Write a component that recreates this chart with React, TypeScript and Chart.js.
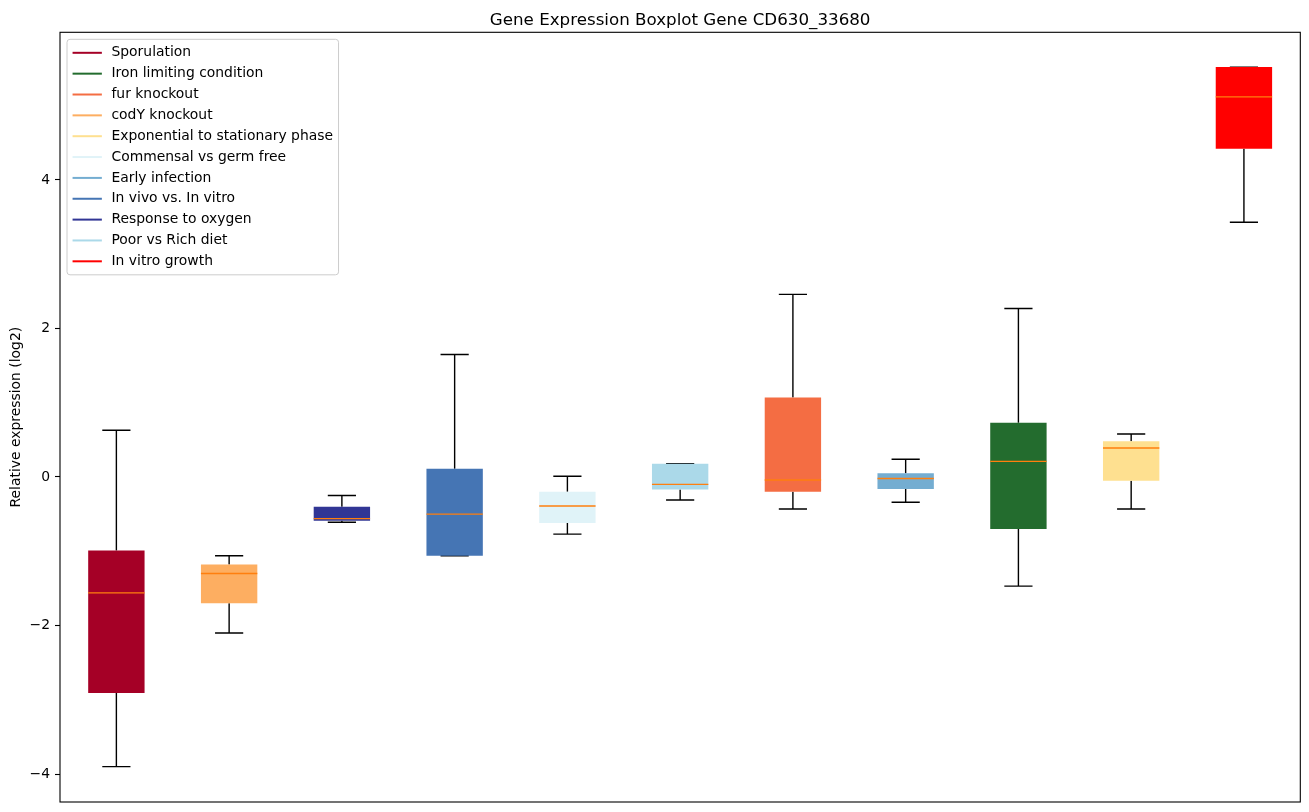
import { useEffect, useRef } from 'react';
import { Chart, registerables } from 'chart.js';

Chart.register(...registerables);

// ---------- data ----------
const categories = [
  'Sporulation',
  'codY knockout',
  'Response to oxygen',
  'In vivo vs. In vitro',
  'Commensal vs germ free',
  'Poor vs Rich diet',
  'fur knockout',
  'Early infection',
  'Iron limiting condition',
  'Exponential to stationary phase',
  'In vitro growth',
];
const whiskerLow = [-3.90, -2.10, -0.61, -1.06, -0.77, -0.31, -0.43, -0.34, -1.47, -0.43, 3.43];
const q1 = [-2.91, -1.70, -0.59, -1.06, -0.62, -0.17, -0.20, -0.16, -0.70, -0.05, 4.42];
const medians = [-1.56, -1.30, -0.56, -0.50, -0.39, -0.10, -0.04, -0.02, 0.21, 0.39, 5.12];
const q3 = [-0.99, -1.18, -0.40, 0.11, -0.20, 0.18, 1.07, 0.05, 0.73, 0.48, 5.52];
const whiskerHigh = [0.63, -1.06, -0.25, 1.65, 0.01, 0.18, 2.46, 0.24, 2.27, 0.58, 5.52];
const boxColors = [
  '#a50026', '#fdae61', '#313695', '#4575b4', '#e0f3f8', '#abd9e9',
  '#f46d43', '#74add1', '#236c2e', '#fee090', '#ff0000',
];
const legendLabels = [
  'Sporulation',
  'Iron limiting condition',
  'fur knockout',
  'codY knockout',
  'Exponential to stationary phase',
  'Commensal vs germ free',
  'Early infection',
  'In vivo vs. In vitro',
  'Response to oxygen',
  'Poor vs Rich diet',
  'In vitro growth',
];
const legendColors = [
  '#a50026', '#236c2e', '#f46d43', '#fdae61', '#fee090', '#e0f3f8',
  '#74add1', '#4575b4', '#313695', '#abd9e9', '#ff0000',
];
const yTicks = [-4, -2, 0, 2, 4];
const yMin = -4.377;
const yMax = 5.989;
const titleText = 'Gene Expression Boxplot Gene CD630_33680';
const yLabel = 'Relative expression (log2)';

const FONT = '"DejaVu Sans", "Liberation Sans", sans-serif';

export default function App() {
  const ref = useRef<HTMLCanvasElement>(null);

  useEffect(() => {
    const canvas = ref.current;
    if (!canvas) return;

    const boxParts = {
      id: 'boxParts',
      beforeDatasetsDraw(chart: any) {
        const ctx = chart.ctx;
        const xs = chart.scales.x;
        const ys = chart.scales.y;
        const catW = xs.width / categories.length;
        const capHalf = catW * 0.125;
        ctx.save();
        ctx.strokeStyle = '#000';
        ctx.lineWidth = 1.4;
        categories.forEach((_, i) => {
          const x = xs.getPixelForValue(i);
          const yHi = ys.getPixelForValue(whiskerHigh[i]);
          const yQ3 = ys.getPixelForValue(q3[i]);
          const yQ1 = ys.getPixelForValue(q1[i]);
          const yLo = ys.getPixelForValue(whiskerLow[i]);
          ctx.beginPath();
          ctx.moveTo(x, yQ3);
          ctx.lineTo(x, yHi);
          ctx.moveTo(x, yQ1);
          ctx.lineTo(x, yLo);
          ctx.moveTo(x - capHalf, yHi);
          ctx.lineTo(x + capHalf, yHi);
          ctx.moveTo(x - capHalf, yLo);
          ctx.lineTo(x + capHalf, yLo);
          ctx.stroke();
        });
        ctx.restore();
      },
      afterDatasetsDraw(chart: any) {
        const ctx = chart.ctx;
        const xs = chart.scales.x;
        const ys = chart.scales.y;
        const catW = xs.width / categories.length;
        const boxHalf = catW * 0.25;
        ctx.save();
        ctx.strokeStyle = '#ff7f0e';
        ctx.lineWidth = 1.4;
        categories.forEach((_, i) => {
          const x = xs.getPixelForValue(i);
          const y = ys.getPixelForValue(medians[i]);
          ctx.beginPath();
          ctx.moveTo(x - boxHalf, y);
          ctx.lineTo(x + boxHalf, y);
          ctx.stroke();
        });
        ctx.restore();
      },
      afterDraw(chart: any) {
        const ctx = chart.ctx;
        const a = chart.chartArea;
        ctx.save();
        // frame
        ctx.strokeStyle = '#000';
        ctx.lineWidth = 1.1;
        ctx.strokeRect(a.left, a.top, a.right - a.left, a.bottom - a.top);
        // title
        ctx.fillStyle = '#000';
        ctx.font = `16.7px ${FONT}`;
        ctx.textAlign = 'center';
        ctx.textBaseline = 'alphabetic';
        ctx.fillText(titleText, (a.left + a.right) / 2, a.top - 7.5);
        // legend
        ctx.font = `13.9px ${FONT}`;
        const fs = 13.9;
        const pad = 0.4 * fs;
        const handleLen = 2 * fs;
        const textGap = 0.8 * fs;
        const rowH = fs * 1.5;
        let maxW = 0;
        legendLabels.forEach((l) => {
          maxW = Math.max(maxW, ctx.measureText(l).width);
        });
        const bx = a.left + 7;
        const by = a.top + 7;
        const bw = pad + handleLen + textGap + maxW + pad;
        const bh = pad * 2 + rowH * legendLabels.length - 0.5 * fs + 2;
        const r = 3;
        ctx.beginPath();
        ctx.moveTo(bx + r, by);
        ctx.lineTo(bx + bw - r, by);
        ctx.quadraticCurveTo(bx + bw, by, bx + bw, by + r);
        ctx.lineTo(bx + bw, by + bh - r);
        ctx.quadraticCurveTo(bx + bw, by + bh, bx + bw - r, by + bh);
        ctx.lineTo(bx + r, by + bh);
        ctx.quadraticCurveTo(bx, by + bh, bx, by + bh - r);
        ctx.lineTo(bx, by + r);
        ctx.quadraticCurveTo(bx, by, bx + r, by);
        ctx.closePath();
        ctx.fillStyle = 'rgba(255,255,255,0.8)';
        ctx.fill();
        ctx.strokeStyle = '#cccccc';
        ctx.lineWidth = 1;
        ctx.stroke();
        ctx.textAlign = 'left';
        ctx.textBaseline = 'middle';
        legendLabels.forEach((l, i) => {
          const cy = by + pad + fs * 0.5 + 1 + i * rowH;
          ctx.strokeStyle = legendColors[i];
          ctx.lineWidth = 2;
          ctx.beginPath();
          ctx.moveTo(bx + pad, cy);
          ctx.lineTo(bx + pad + handleLen + 1.5, cy);
          ctx.stroke();
          ctx.fillStyle = '#000';
          ctx.fillText(l, bx + pad + handleLen + textGap, cy);
        });
        ctx.restore();
      },
    };

    const chart = new Chart(canvas, {
      type: 'bar',
      data: {
        labels: categories,
        datasets: [
          {
            data: categories.map((_, i) => [q1[i], q3[i]]) as any,
            backgroundColor: boxColors,
            borderWidth: 0,
            borderSkipped: false,
            categoryPercentage: 0.5,
            barPercentage: 1.0,
          },
        ],
      },
      options: {
        responsive: false,
        animation: false,
        devicePixelRatio: 1,
        layout: { padding: { top: 32.3, right: 8.7, bottom: 10, left: 0 } },
        plugins: {
          legend: { display: false },
          title: { display: false },
          tooltip: { enabled: false },
        },
        scales: {
          x: { display: false },
          y: {
            min: yMin,
            max: yMax,
            afterBuildTicks: (s: any) => {
              s.ticks = yTicks.map((v) => ({ value: v }));
            },
            afterFit: (s: any) => {
              s.width = 60;
              s.paddingTop = 0;
              s.paddingBottom = 0;
            },
            border: { display: false },
            grid: {
              drawOnChartArea: false,
              drawTicks: true,
              tickLength: 5,
              tickColor: '#000',
              tickWidth: 1.1,
            },
            ticks: {
              color: '#000',
              padding: 5,
              font: { family: FONT, size: 13.9 },
              callback: (v: any) => String(v).replace('-', '\u2212'),
            },
            title: {
              display: true,
              text: yLabel,
              color: '#000',
              font: { family: FONT, size: 13.9 },
              padding: { top: 8, bottom: 0 },
            },
          },
        },
      },
      plugins: [boxParts],
    });

    return () => chart.destroy();
  }, []);

  return (
    <div style={{ position: 'fixed', left: 0, top: 0, width: 1309, height: 812, background: '#fff' }}>
      <canvas ref={ref} width={1309} height={812} style={{ width: '1309px', height: '812px', display: 'block' }} />
    </div>
  );
}
